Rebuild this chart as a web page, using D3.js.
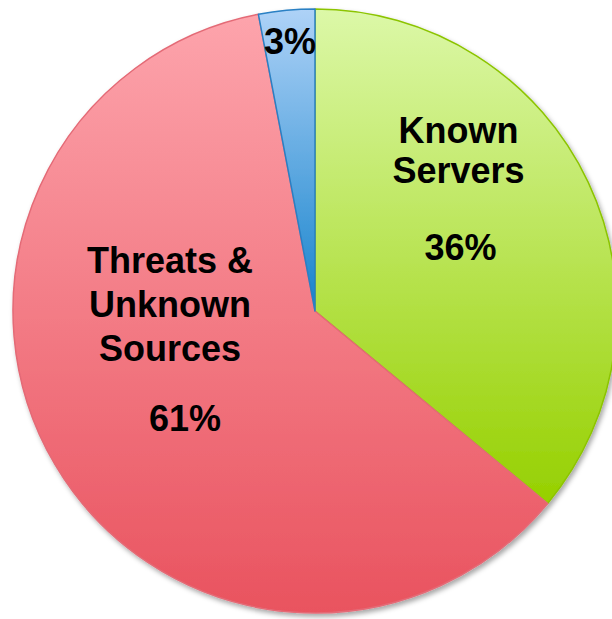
<!DOCTYPE html>
<html>
<head>
<meta charset="utf-8">
<script src="https://cdn.jsdelivr.net/npm/d3@7"></script>
<style>
  html, body { margin: 0; padding: 0; background: #ffffff; }
  svg { display: block; }
</style>
</head>
<body>
<svg id="chart" width="612" height="619"></svg>
<script>
// Traffic source shares
const categories = ["Known Servers", "Threats & Unknown Sources", "Other"];
const values = [36, 61, 3];
const labelLines = [["Known", "Servers"], ["Threats &", "Unknown", "Sources"], []];
const percentLabels = ["36%", "61%", "3%"];

// Slice styling: gradient top/bottom and outline
const gradTop = ["#dcf8a8", "#fda4ac", "#aed2f7"];
const gradBottom = ["#96d000", "#e9535f", "#1683cc"];
const strokes = ["#8cc400", "#e46a76", "#2a80c4"];

const width = 612, height = 619;
const cx = 315, cy = 311, radius = 302;

const svg = d3.select("#chart");
const defs = svg.append("defs");

const shadow = defs.append("filter")
  .attr("id", "pieShadow")
  .attr("x", "-10%").attr("y", "-10%")
  .attr("width", "120%").attr("height", "120%");
shadow.append("feDropShadow")
  .attr("dx", 2).attr("dy", 3)
  .attr("stdDeviation", 2.5)
  .attr("flood-color", "#000")
  .attr("flood-opacity", 0.35);

categories.forEach((c, i) => {
  const g = defs.append("linearGradient")
    .attr("id", "grad" + i)
    .attr("x1", 0).attr("y1", 0).attr("x2", 0).attr("y2", 1);
  g.append("stop").attr("offset", "0%").attr("stop-color", gradTop[i]);
  g.append("stop").attr("offset", "100%").attr("stop-color", gradBottom[i]);
});

const pie = d3.pie().sort(null).value(d => d)
  .startAngle(0).endAngle(2 * Math.PI);
const arcs = pie(values);
const arc = d3.arc().innerRadius(0).outerRadius(radius);

const g = svg.append("g")
  .attr("transform", `translate(${cx},${cy})`);

const slices = g.append("g").attr("filter", "url(#pieShadow)");
slices.selectAll("path")
  .data(arcs)
  .join("path")
  .attr("d", arc)
  .attr("fill", (d, i) => `url(#grad${i})`)
  .attr("stroke", (d, i) => strokes[i])
  .attr("stroke-width", 1.5)
  .attr("stroke-linejoin", "round");

// Label placement in units of the radius, relative to the pie centre
const labelPos = [
  { fx: 0.475, fy: -0.555, lineH: 40, gap: 77, pdx: 2 },
  { fx: -0.48, fy: -0.127, lineH: 44, gap: 70, pdx: 15 },
  { fx: -0.083, fy: -0.852, lineH: 0, gap: 0, pdx: 0 }
];

const font = "'Liberation Sans', Arial, Helvetica, sans-serif";
const labels = g.append("g")
  .attr("font-family", font)
  .attr("font-weight", "bold")
  .attr("font-size", 36)
  .attr("fill", "#000")
  .attr("text-anchor", "middle");

arcs.forEach((d, i) => {
  const p = labelPos[i];
  const x = p.fx * radius, y = p.fy * radius;
  const lines = labelLines[i];
  lines.forEach((t, k) => {
    labels.append("text")
      .attr("x", x).attr("y", y + k * p.lineH)
      .text(t);
  });
  const py = lines.length ? y + (lines.length - 1) * p.lineH + p.gap : y;
  labels.append("text")
    .attr("x", x + p.pdx).attr("y", py)
    .text(percentLabels[i]);
});
</script>
</body>
</html>
